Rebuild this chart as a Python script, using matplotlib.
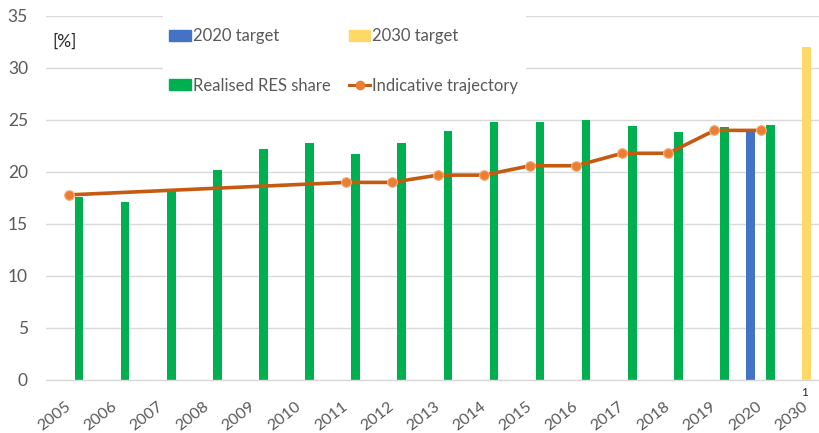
import matplotlib
matplotlib.use("Agg")
import matplotlib.pyplot as plt
from matplotlib.patches import Patch, Rectangle
from matplotlib.lines import Line2D
import numpy as np

# categories on the x axis
years = ["2005", "2006", "2007", "2008", "2009", "2010", "2011", "2012",
         "2013", "2014", "2015", "2016", "2017", "2018", "2019", "2020", "2030"]

# realised RES share, 2005-2020 (%)
realised = [17.6, 17.1, 18.2, 20.2, 22.2, 22.8, 21.7, 22.8,
            23.9, 24.8, 24.8, 25.0, 24.4, 23.8, 24.3, 24.5, np.nan]

# indicative trajectory (only given for some years)
trajectory = [17.8, np.nan, np.nan, np.nan, np.nan, np.nan, 19.0, 19.0,
              19.7, 19.7, 20.6, 20.6, 21.8, 21.8, 24.0, 24.0, np.nan]

target_2020 = 24.0
target_2030 = 32.0

FONT = "Lato"
plt.rcParams["font.family"] = [FONT, "DejaVu Sans"]

W, H = 820, 433
fig = plt.figure(figsize=(W / 100, H / 100), dpi=100)

# plot area in pixels: left 46, right 820, top 16, bottom 380
px_per_cat = 46.1
ax = fig.add_axes([46 / W, (H - 380) / H, (820 - 46) / W, 364 / H])
ax.set_xlim(-0.5, -0.5 + 774 / px_per_cat)
ax.set_ylim(0, 35)

x = np.arange(len(years))
bw = 8.6 / px_per_cat
off = 10 / px_per_cat

green = "#00B050"
blue = "#4472C4"
yellow = "#FFD966"
line_c = "#C55A11"
mark_c = "#ED7D31"

ax.bar(x + off, realised, width=bw, color=green, zorder=2)
i2020 = years.index("2020")
i2030 = years.index("2030")
ax.bar(x[i2020] - off, target_2020, width=bw, color=blue, zorder=2)
ax.bar(x[i2030], target_2030, width=bw, color=yellow, zorder=2)

traj = np.array(trajectory)
ok = ~np.isnan(traj)
ax.plot(x[ok], traj[ok], color=line_c, lw=2.6, zorder=3,
        marker="o", markersize=7, markerfacecolor=mark_c,
        markeredgecolor="#F4B183", markeredgewidth=0.8)

# grid and axes
ax.set_yticks(np.arange(0, 36, 5))
ax.yaxis.grid(True, color="#D9D9D9", lw=1)
ax.set_axisbelow(True)
for s in ["top", "right", "left"]:
    ax.spines[s].set_visible(False)
ax.spines["bottom"].set_color("#D9D9D9")
ax.spines["bottom"].set_linewidth(1)
ax.tick_params(axis="y", length=0, colors="#595959", labelsize=12.5, pad=13)
ax.set_xticks(x)
ax.set_xticklabels(years, rotation=38, ha="right", va="center",
                   rotation_mode="anchor")
ax.tick_params(axis="x", length=0, colors="#595959", labelsize=11.5, pad=18)

# white box behind the legend hides the gridlines there
fig.patches.append(Rectangle((163 / W, (H - 103) / H), 363 / W, 93 / H,
                             transform=fig.transFigure, facecolor="white",
                             edgecolor="none", zorder=1))
ax.set_zorder(0)

handles = [Patch(color=blue), Patch(color=green), Patch(color=yellow),
           Line2D([0], [0], color=line_c, lw=2.2, marker="o", markersize=6,
                  markerfacecolor=mark_c, markeredgecolor=mark_c)]
labels = ["2020 target", "Realised RES share", "2030 target", "Indicative trajectory"]
leg = fig.legend(handles, labels, ncol=2, loc="upper left",
                 bbox_to_anchor=(161 / W, (H - 20) / H), frameon=False,
                 fontsize=12, labelspacing=2.0, columnspacing=1.1,
                 handlelength=1.3, handleheight=0.65, handletextpad=0.1,
                 borderpad=0, labelcolor="#595959")

fig.text(52 / W, (H - 42) / H, "[%]", fontsize=12.5, color="#262626",
         va="center", ha="left")
fig.text(805 / W, (H - 392) / H, "1", fontsize=8.5, color="#262626",
         va="center", ha="center")

fig.savefig("out.png", dpi=100)
